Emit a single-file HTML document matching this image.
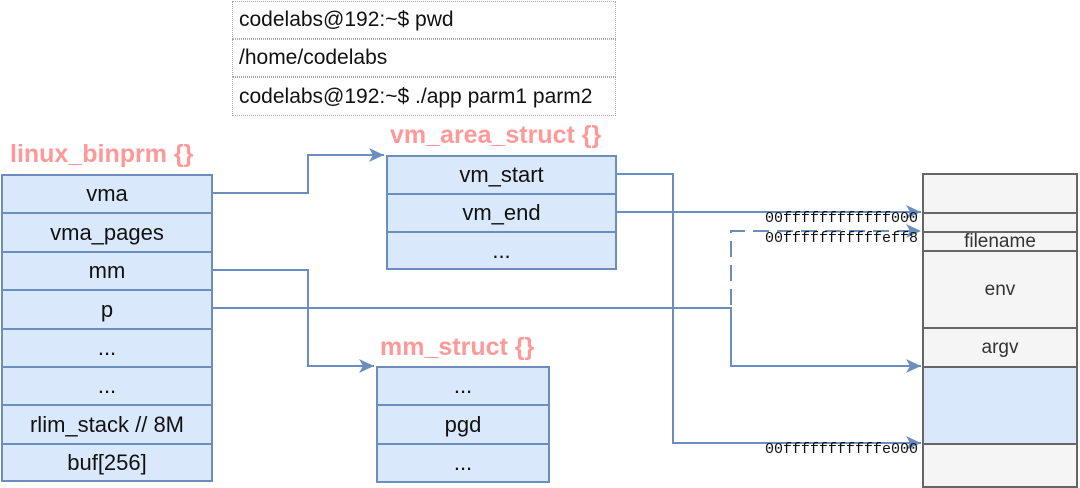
<!DOCTYPE html>
<html><head><style>
body{margin:0;width:1080px;height:484px;background:#fff;overflow:hidden;position:relative;font-family:"Liberation Sans",sans-serif}
.a{position:absolute;box-sizing:border-box}
.r{position:absolute;box-sizing:border-box;background:#dae8fc;border:2px solid #6c8ebf;display:flex;align-items:center;justify-content:center;font-size:22px;color:#111}
.g{position:absolute;box-sizing:border-box;background:#f5f5f5;border:2px solid #666;display:flex;align-items:center;justify-content:center;font-size:19px;color:#333}
.t{position:absolute;font-weight:bold;color:#ff9999;font-size:25px}
.term{position:absolute;left:232px;width:384px;height:38px;border:1.5px dotted #aaa;box-sizing:border-box;font-size:21px;padding-left:6px;display:flex;align-items:center;color:#111}
.m{position:absolute;font-family:"Liberation Mono",monospace;font-size:15px;color:#111;text-align:right;width:220px;left:698px}
</style></head><body>
<div class="term" style="top:1px">codelabs@192:~$ pwd</div>
<div class="term" style="top:39px">/home/codelabs</div>
<div class="term" style="top:77px;height:39px">codelabs@192:~$ ./app parm1 parm2</div>

<div class="t" style="left:10px;top:140px">linux_binprm {}</div>
<div class="r" style="left:1px;top:174px;width:212px;height:40px">vma</div>
<div class="r" style="left:1px;top:212px;width:212px;height:41px">vma_pages</div>
<div class="r" style="left:1px;top:251px;width:212px;height:40px">mm</div>
<div class="r" style="left:1px;top:289px;width:212px;height:41px">p</div>
<div class="r" style="left:1px;top:328px;width:212px;height:40px">...</div>
<div class="r" style="left:1px;top:366px;width:212px;height:40px">...</div>
<div class="r" style="left:1px;top:404px;width:212px;height:41px">rlim_stack // 8M</div>
<div class="r" style="left:1px;top:443px;width:212px;height:39px">buf[256]</div>

<div class="t" style="left:390px;top:121px">vm_area_struct {}</div>
<div class="r" style="left:386px;top:155px;width:231px;height:40px">vm_start</div>
<div class="r" style="left:386px;top:193px;width:231px;height:40px">vm_end</div>
<div class="r" style="left:386px;top:231px;width:231px;height:39px">...</div>

<div class="t" style="left:380px;top:333px">mm_struct {}</div>
<div class="r" style="left:376px;top:366px;width:174px;height:40px">...</div>
<div class="r" style="left:376px;top:404px;width:174px;height:41px">pgd</div>
<div class="r" style="left:376px;top:443px;width:174px;height:40px">...</div>

<div class="g" style="left:922px;top:173px;width:156px;height:41px"></div>
<div class="g" style="left:922px;top:212px;width:156px;height:21px"></div>
<div class="g" style="left:922px;top:231px;width:156px;height:21px">filename</div>
<div class="g" style="left:922px;top:250px;width:156px;height:79px">env</div>
<div class="g" style="left:922px;top:327px;width:156px;height:41px">argv</div>
<div class="g" style="left:922px;top:366px;width:156px;height:79px;background:#dae8fc;border-color:#666"></div>
<div class="g" style="left:922px;top:443px;width:156px;height:45px"></div>

<svg class="a" style="left:0;top:0" width="1080" height="484">
<defs><marker id="ar" markerWidth="16" markerHeight="14" refX="15" refY="7" orient="auto" markerUnits="userSpaceOnUse"><path d="M0,0 L15,7 L0,14 L4,7z" fill="#6c8ebf"/></marker></defs>
<g fill="none" stroke="#6c8ebf" stroke-width="2">
<path d="M213,193 H308 V155 H384" marker-end="url(#ar)"/>
<path d="M617,174 H673 V443 H921" marker-end="url(#ar)"/>
<path d="M617,212 H921" marker-end="url(#ar)"/>
<path d="M213,270 H308 V366 H374" marker-end="url(#ar)"/>
<path d="M213,308 H731 V366 H921" marker-end="url(#ar)"/>
<path d="M731,305 V231 H921" stroke-dasharray="16,8" marker-end="url(#ar)"/>
</g></svg>
<div class="m" style="top:210px">00ffffffffffff000</div>
<div class="m" style="top:230px">00fffffffffffeff8</div>
<div class="m" style="top:441px">00fffffffffffe000</div>
</body></html>
